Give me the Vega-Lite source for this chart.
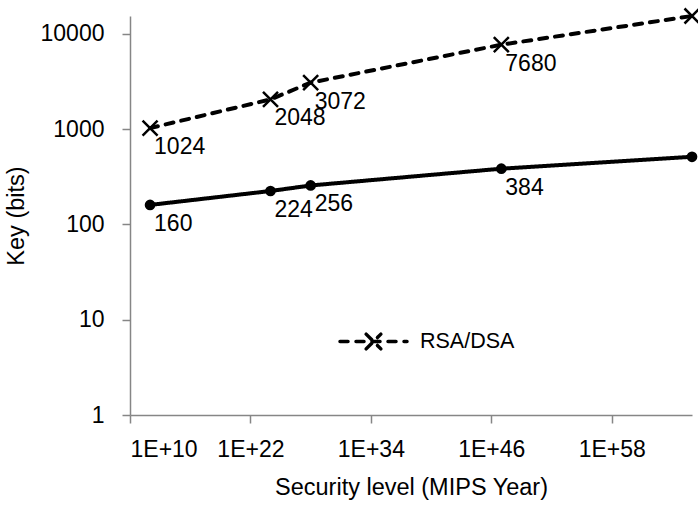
{
  "$schema": "https://vega.github.io/schema/vega-lite/v6.json",
  "width": 562,
  "height": 399,
  "autosize": "none",
  "padding": {"left": 130, "top": 16, "right": 6, "bottom": 90},
  "background": "white",
  "config": {
    "view": {"stroke": null},
    "font": "Liberation Sans",
    "axis": {
      "grid": false,
      "domainColor": "#868686",
      "domainWidth": 1.5,
      "tickColor": "#868686",
      "tickWidth": 1.5,
      "tickSize": 8,
      "labelFont": "Liberation Sans",
      "labelFontSize": 23,
      "labelColor": "#000000",
      "titleFont": "Liberation Sans",
      "titleFontSize": 23.5,
      "titleFontWeight": "normal",
      "titleColor": "#000000"
    }
  },
  "data": {
    "values": [
      {"series": "ECC", "level": 1e12, "key": 160},
      {"series": "ECC", "level": 1e24, "key": 224},
      {"series": "ECC", "level": 1e28, "key": 256},
      {"series": "ECC", "level": 1e47, "key": 384},
      {"series": "ECC", "level": 1e66, "key": 512},
      {"series": "RSA/DSA", "level": 1e12, "key": 1024},
      {"series": "RSA/DSA", "level": 1e24, "key": 2048},
      {"series": "RSA/DSA", "level": 1e28, "key": 3072},
      {"series": "RSA/DSA", "level": 1e47, "key": 7680},
      {"series": "RSA/DSA", "level": 1e66, "key": 15360}
    ]
  },
  "encoding": {
    "x": {
      "field": "level",
      "type": "quantitative",
      "scale": {"type": "log", "domain": [1e10, 1e66], "nice": false},
      "axis": {
        "title": "Security level (MIPS Year)",
        "values": [1e10, 1e22, 1e34, 1e46, 1e58],
        "labelExpr": "'1E+' + round(log(datum.value)/LN10)",
        "labelPadding": 15,
        "titlePadding": 14
      }
    },
    "y": {
      "field": "key",
      "type": "quantitative",
      "scale": {"type": "log", "domain": [1, 15360], "nice": false},
      "axis": {
        "title": "Key (bits)",
        "values": [1, 10, 100, 1000, 10000],
        "format": "d",
        "labelPadding": 18,
        "titlePadding": 12
      }
    }
  },
  "layer": [
    {
      "mark": {"type": "line", "color": "#000000", "strokeWidth": 4, "strokeCap": "round"},
      "encoding": {
        "detail": {"field": "series"},
        "strokeDash": {
          "field": "series",
          "type": "nominal",
          "scale": {"domain": ["ECC", "RSA/DSA"], "range": [[1, 0], [8, 8]]},
          "legend": {
            "values": ["RSA/DSA"],
            "title": null,
            "orient": "none",
            "legendX": 208,
            "legendY": 290,
            "symbolType": "M-1,0H1M-0.22,-0.22L0.22,0.22M-0.22,0.22L0.22,-0.22",
            "symbolSize": 4489,
            "symbolStrokeWidth": 3.5,
            "symbolStrokeColor": "#000000",
            "labelFontSize": 21.5,
            "labelColor": "#000000",
            "labelFont": "Liberation Sans",
            "labelOffset": 11,
            "encode": {"symbols": {"update": {"strokeCap": {"value": "round"}}}}
          }
        }
      }
    },
    {
      "transform": [{"filter": "datum.series === 'ECC'"}],
      "mark": {"type": "point", "shape": "circle", "filled": true, "color": "#000000", "size": 115, "opacity": 1}
    },
    {
      "transform": [{"filter": "datum.series === 'RSA/DSA'"}],
      "mark": {"type": "point", "shape": "M-1,-1L1,1M-1,1L1,-1", "filled": false, "color": "#000000", "strokeWidth": 2.5, "size": 225, "opacity": 1}
    },
    {
      "transform": [{"filter": "datum.level < 1e60"}],
      "mark": {"type": "text", "align": "left", "baseline": "top", "dx": 4, "dy": 8, "fontSize": 23, "font": "Liberation Sans", "color": "#000000"},
      "encoding": {"text": {"field": "key", "type": "quantitative", "format": "d"}}
    }
  ]
}
